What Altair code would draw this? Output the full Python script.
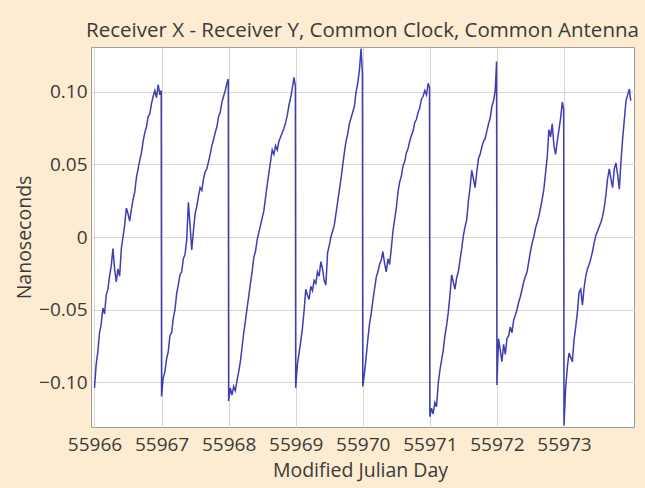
import altair as alt
import pandas as pd

# ---- data ----
days = [55966, 55967, 55968, 55969, 55970, 55971, 55972, 55973]

fracs = [0.000, 0.025, 0.050, 0.075, 0.100, 0.125, 0.150, 0.175, 0.200, 0.225,
         0.250, 0.275, 0.300, 0.325, 0.350, 0.375, 0.400, 0.425, 0.450, 0.475,
         0.500, 0.525, 0.550, 0.575, 0.600, 0.625, 0.650, 0.675, 0.700, 0.725,
         0.750, 0.775, 0.800, 0.825, 0.850, 0.875, 0.900, 0.925, 0.950, 0.975,
         0.995]

ns_55966 = [-0.104, -0.088, -0.079, -0.066, -0.060, -0.049, -0.053, -0.040, -0.036, -0.027,
            -0.020, -0.008, -0.022, -0.031, -0.022, -0.027, -0.008, 0.000, 0.008, 0.020,
            0.016, 0.011, 0.019, 0.026, 0.031, 0.041, 0.047, 0.053, 0.058, 0.066,
            0.072, 0.076, 0.083, 0.085, 0.092, 0.097, 0.101, 0.096, 0.105, 0.098,
            0.101]
ns_55967 = [-0.110, -0.097, -0.093, -0.084, -0.079, -0.068, -0.066, -0.056, -0.050, -0.039,
            -0.033, -0.026, -0.024, -0.015, -0.012, -0.002, 0.024, 0.008, -0.009, 0.004,
            0.016, 0.021, 0.028, 0.034, 0.032, 0.040, 0.045, 0.047, 0.052, 0.057,
            0.063, 0.067, 0.072, 0.076, 0.083, 0.086, 0.093, 0.097, 0.101, 0.106,
            0.109]
ns_55968 = [-0.113, -0.104, -0.109, -0.103, -0.106, -0.099, -0.093, -0.086, -0.076, -0.066,
            -0.058, -0.049, -0.041, -0.032, -0.024, -0.014, -0.010, -0.002, 0.003, 0.008,
            0.013, 0.018, 0.027, 0.036, 0.044, 0.052, 0.060, 0.057, 0.063, 0.060,
            0.066, 0.069, 0.072, 0.075, 0.079, 0.084, 0.091, 0.096, 0.103, 0.110,
            0.104]
ns_55969 = [-0.104, -0.088, -0.080, -0.072, -0.063, -0.051, -0.036, -0.040, -0.043, -0.034,
            -0.037, -0.030, -0.032, -0.024, -0.027, -0.017, -0.022, -0.030, -0.033, -0.011,
            -0.006, 0.000, 0.004, 0.008, 0.016, 0.024, 0.032, 0.040, 0.049, 0.058,
            0.066, 0.071, 0.078, 0.082, 0.086, 0.090, 0.100, 0.106, 0.115, 0.130,
            0.112]
ns_55970 = [-0.103, -0.094, -0.083, -0.071, -0.060, -0.053, -0.044, -0.036, -0.028, -0.024,
            -0.019, -0.016, -0.010, -0.018, -0.024, -0.015, -0.019, -0.008, 0.004, 0.012,
            0.020, 0.031, 0.038, 0.042, 0.049, 0.052, 0.058, 0.061, 0.066, 0.070,
            0.073, 0.079, 0.081, 0.086, 0.089, 0.095, 0.097, 0.101, 0.098, 0.106,
            0.103]
ns_55971 = [-0.124, -0.118, -0.122, -0.114, -0.117, -0.101, -0.092, -0.085, -0.078, -0.068,
            -0.061, -0.052, -0.040, -0.026, -0.031, -0.036, -0.028, -0.024, -0.016, -0.008,
            0.001, 0.007, 0.012, 0.025, 0.034, 0.046, 0.040, 0.034, 0.045, 0.054,
            0.057, 0.062, 0.066, 0.068, 0.073, 0.078, 0.082, 0.090, 0.094, 0.101,
            0.121]
ns_55972 = [-0.102, -0.070, -0.078, -0.086, -0.074, -0.081, -0.070, -0.068, -0.062, -0.066,
            -0.057, -0.054, -0.050, -0.045, -0.041, -0.036, -0.031, -0.027, -0.024, -0.017,
            -0.010, -0.004, 0.000, 0.006, 0.010, 0.014, 0.020, 0.026, 0.033, 0.044,
            0.055, 0.074, 0.069, 0.078, 0.063, 0.057, 0.066, 0.074, 0.082, 0.093,
            0.088]
ns_55973 = [-0.130, -0.104, -0.090, -0.080, -0.083, -0.086, -0.071, -0.062, -0.052, -0.038,
            -0.036, -0.047, -0.035, -0.027, -0.022, -0.019, -0.015, -0.010, -0.004, 0.001,
            0.004, 0.007, 0.010, 0.014, 0.020, 0.029, 0.040, 0.047, 0.040, 0.034,
            0.047, 0.051, 0.043, 0.033, 0.052, 0.068, 0.081, 0.094, 0.098, 0.102,
            0.094]

series = [ns_55966, ns_55967, ns_55968, ns_55969, ns_55970, ns_55971, ns_55972, ns_55973]

y_ticks = [-0.10, -0.05, 0.0, 0.05, 0.10]
x_ticks = days

TITLE = "Receiver X - Receiver Y, Common Clock, Common Antenna"
X_TITLE = "Modified Julian Day"
Y_TITLE = "Nanoseconds"

rows = []
for d, vals in zip(days, series):
    for f, v in zip(fracs, vals):
        rows.append({"mjd": d + f, "ns": v})
df = pd.DataFrame(rows)

FONT = "Open Sans"
TXT = "#3a3a3a"
BG = "#fdecd2"

line = alt.Chart(df).mark_line(color="#3e3eb2", strokeWidth=1.5, clip=True).encode(
    x=alt.X("mjd:Q",
            scale=alt.Scale(domain=[55965.948, 55974.044], nice=False, zero=False),
            axis=alt.Axis(values=x_ticks, format="d", grid=True, ticks=False, tickSize=0,
                          domain=False, labelPadding=8, labelFontSize=19,
                          labelFont=FONT, labelColor=TXT,
                          title=X_TITLE, titleFont=FONT, titleFontSize=19.5,
                          titleFontWeight="normal", titleColor=TXT,
                          titleX=269, titleY=49, titleAlign="center",
                          titleBaseline="alphabetic",
                          gridColor="#d9d6d3", gridWidth=1)),
    y=alt.Y("ns:Q",
            scale=alt.Scale(domain=[-0.131, 0.131], nice=False, zero=False),
            axis=alt.Axis(values=y_ticks, grid=True, ticks=False, tickSize=0,
                          domain=False, labelPadding=4, labelFontSize=19,
                          labelFont=FONT, labelColor=TXT,
                          labelExpr="datum.value == 0 ? '0' : format(datum.value, '.2f')",
                          title=Y_TITLE, titleFont=FONT, titleFontSize=19.5,
                          titleFontWeight="normal", titleColor=TXT,
                          titleAngle=-90, titleX=-67, titleY=190,
                          titleAlign="center", titleBaseline="middle",
                          gridColor="#d9d6d3", gridWidth=1)),
)

chart = line.properties(
    width=543,
    height=380,
    title=alt.TitleParams(TITLE, anchor="middle", font=FONT, fontSize=20.5,
                          fontWeight="normal", color=TXT, baseline="alphabetic",
                          offset=9, dy=19),
    autosize=alt.AutoSizeParams(type="none"),
    padding={"left": 91, "top": 47, "right": 11, "bottom": 61},
    background=BG,
).configure_view(fill="white", stroke="#9c9c9c", strokeWidth=1)

chart.save("out.html", embed_options={"renderer": "svg", "actions": False})
